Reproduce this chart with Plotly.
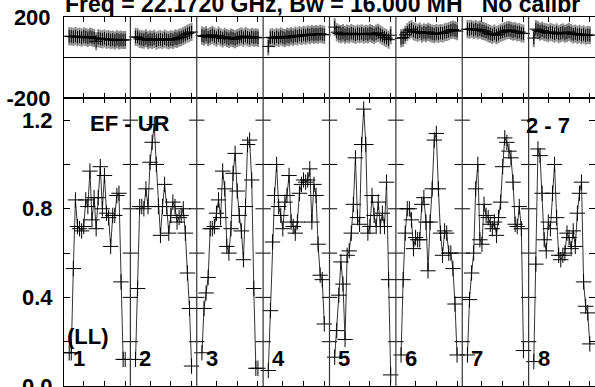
import plotly.graph_objects as go

W, H = 595, 387
N_CH = 32
FIRST_CH = 3

# Amplitude per IF segment (channels 3..30)
amp_if1 = [0.15, 0.15, 0.53, 0.84, 0.72, 0.71, 0.70, 0.72, 0.84, 0.81, 0.97, 0.75, 0.85, 0.71,
           0.85, 0.99, 0.80, 0.95, 0.78, 0.76, 0.63, 0.77, 0.77, 0.86, 0.87, 0.47, 0.12, 0.12]
amp_if2 = [0.12, 0.44, 0.81, 0.81, 0.80, 0.89, 0.81, 1.01, 1.10, 1.18, 1.00, 0.81, 0.68, 0.81,
           0.91, 0.81, 0.69, 0.77, 0.83, 0.81, 0.74, 0.76, 0.77, 0.80, 0.69, 0.51, 0.35, 0.09]
amp_if3 = [0.15, 0.35, 0.42, 0.49, 0.71, 0.71, 0.72, 0.78, 0.84, 0.76, 0.97, 0.89, 0.63, 0.60,
           0.71, 0.96, 1.05, 0.88, 0.77, 0.70, 0.57, 0.81, 1.09, 1.11, 0.93, 0.44, 0.08, 0.08]
amp_if4 = [0.07, 0.34, 0.65, 0.86, 1.00, 0.81, 0.77, 0.71, 0.83, 0.86, 0.95, 0.74, 0.72, 0.69,
           0.74, 0.87, 0.91, 0.93, 0.92, 0.93, 0.98, 0.74, 0.91, 0.86, 0.64, 0.50, 0.48, 0.28]
amp_if5 = [0.13, 0.25, 0.41, 0.56, 0.46, 0.21, 0.59, 0.61, 0.69, 0.82, 1.03, 0.76, 0.73, 1.09,
           1.25, 1.09, 0.69, 0.72, 0.86, 0.77, 0.72, 0.83, 0.72, 0.78, 0.72, 0.92, 0.48, 0.05]
amp_if6 = [0.14, 0.48, 0.69, 0.80, 0.80, 0.75, 0.62, 0.67, 0.66, 0.66, 0.82, 0.85, 0.74, 0.52,
           0.74, 0.89, 1.11, 1.14, 0.89, 0.69, 0.59, 0.70, 0.69, 0.60, 0.60, 0.53, 0.37, 0.14]
amp_if7 = [0.14, 0.39, 0.51, 0.60, 0.89, 1.00, 0.66, 0.64, 0.82, 0.77, 0.76, 0.73, 0.71, 0.74,
           0.68, 0.76, 0.83, 0.99, 1.12, 1.10, 1.06, 1.03, 0.92, 0.73, 0.72, 0.81, 0.71, 0.16]
amp_if8 = [0.11, 0.55, 1.07, 1.04, 0.87, 0.66, 0.61, 0.74, 0.71, 0.87, 1.00, 0.76, 0.59, 0.57,
           0.59, 0.60, 0.69, 0.67, 0.62, 0.70, 0.63, 0.78, 0.87, 0.92, 0.47, 0.36, 0.33, 0.19]

# Phase (degrees) per IF segment
ph_if1 = [105, 104, 102, 106, 100, 103, 98, 104, 101, 97, 103, 99, 96, 80,
          95, 92, 90, 94, 88, 91, 86, 89, 84, 90, 85, 88, 86, 87]
ph_if2 = [102, 100, 92, 90, 88, 95, 85, 90, 87, 92, 84, 88, 90, 86,
          93, 88, 85, 90, 87, 94, 92, 98, 100, 106, 112, 118, 122, 126]
ph_if3 = [108, 104, 110, 100, 106, 112, 104, 98, 108, 100, 94, 102, 96, 92,
          98, 95, 90, 96, 100, 104, 98, 106, 100, 96, 102, 98, 100, 97]
ph_if4 = [55, 98, 100, 95, 102, 97, 104, 99, 96, 103, 100, 106, 101, 108,
          104, 110, 106, 112, 108, 114, 110, 116, 112, 115, 113, 117, 114, 112]
ph_if5 = [150, 125, 118, 115, 120, 112, 118, 114, 120, 116, 112, 118, 115, 119,
          113, 117, 114, 120, 116, 112, 118, 122, 114, 108, 100, 96, 88, 110]
ph_if6 = [95, 98, 112, 125, 135, 140, 130, 126, 122, 128, 118, 124, 120, 126,
          122, 118, 115, 120, 117, 121, 119, 124, 126, 130, 135, 138, 134, 130]
ph_if7 = [140, 138, 142, 136, 140, 134, 138, 132, 130, 126, 120, 116, 112, 118,
          110, 115, 122, 126, 130, 134, 136, 132, 128, 130, 124, 126, 120, 118]
ph_if8 = [96, 140, 135, 128, 132, 126, 124, 120, 126, 122, 118, 124, 116, 120,
          124, 118, 122, 126, 120, 114, 118, 112, 116, 110, 114, 108, 112, 110]

amps = [amp_if1, amp_if2, amp_if3, amp_if4, amp_if5, amp_if6, amp_if7, amp_if8]
phases = [ph_if1, ph_if2, ph_if3, ph_if4, ph_if5, ph_if6, ph_if7, ph_if8]
if_labels = ["1", "2", "3", "4", "5", "6", "7", "8"]

title_text = "Freq = 22.1720 GHz, Bw = 16.000 MH   No calibr"
baseline_text = "EF - UR"
scan_text = "2 - 7"
pol_text = "(LL)"

FONT = "Liberation Sans, Arial, Helvetica, sans-serif"

xs, ya, yp = [], [], []
for k, (a, p) in enumerate(zip(amps, phases)):
    for i, (av, pv) in enumerate(zip(a, p)):
        xs.append(k * N_CH + FIRST_CH + i)
        ya.append(av)
        yp.append(pv)
    xs.append(None); ya.append(None); yp.append(None)

n_seg = len(amps)
fig = go.Figure()

# phase panel: gray bars + black crosses
fig.add_trace(go.Scatter(x=xs, y=yp, xaxis="x2", yaxis="y2", mode="markers",
                         marker=dict(symbol="line-ns", size=13, line=dict(color="#8a8a8a", width=2)),
                         hoverinfo="skip", showlegend=False))
fig.add_trace(go.Scatter(x=xs, y=yp, xaxis="x2", yaxis="y2", mode="lines+markers",
                         line=dict(color="#222", width=1),
                         marker=dict(symbol="cross-thin", size=9, line=dict(color="black", width=1)),
                         showlegend=False))
# amplitude panel
fig.add_trace(go.Scatter(x=xs, y=ya, mode="lines+markers",
                         line=dict(color="#333", width=1),
                         marker=dict(symbol="cross-thin", size=11, line=dict(color="black", width=1)),
                         showlegend=False))

# ticks along segment boundaries in amplitude panel
bx, by = [], []
for k in range(1, n_seg):
    for v in [0.2, 0.4, 0.6, 0.8, 1.0, 1.2]:
        bx.append(k * N_CH + 0.5); by.append(v)
fig.add_trace(go.Scatter(x=bx, y=by, mode="markers",
                         marker=dict(symbol="line-ew", size=11, line=dict(color="black", width=1)),
                         hoverinfo="skip", showlegend=False))

xr = [0.5, n_seg * N_CH + 0.5]
x_left = 64 / W
amp_dom = [1 - 386 / H, 1 - 98 / H]
ph_dom = [1 - 98 / H, 1 - 17 / H]
xt = [k * N_CH + c for k in range(n_seg) for c in (10, 20, 30)]

common_x = dict(range=xr, showline=True, mirror="ticks", linecolor="black", linewidth=1,
                ticks="inside", ticklen=5, tickcolor="black", tickvals=xt, showticklabels=False,
                showgrid=False, zeroline=False, domain=[x_left, 1], automargin=False)
fig.update_layout(
    width=W, height=H, margin=dict(l=0, r=0, t=0, b=0, autoexpand=False),
    paper_bgcolor="white", plot_bgcolor="white", showlegend=False,
    xaxis=dict(**common_x, anchor="y"),
    xaxis2=dict(**common_x, anchor="y2", matches="x"),
    yaxis=dict(domain=amp_dom, range=[0, 1.3], tickmode="linear", tick0=0, dtick=0.4,
               tickformat=".1f", ticks="inside", ticklen=6, tickcolor="black",
               minor=dict(dtick=0.2, ticks="inside", ticklen=6, tickcolor="black"),
               showline=True, mirror="ticks", linecolor="black", showgrid=False, zeroline=False,
               ticklabelstandoff=6, automargin=False, ticklabeloverflow="allow",
               tickfont=dict(family=FONT, size=22, color="black", weight="bold")),
    yaxis2=dict(domain=ph_dom, range=[-200, 200], tickvals=[-200, 200], ticktext=["-200", "200"],
                ticks="", showline=True, mirror=True, linecolor="black", showgrid=False,
                zeroline=True, zerolinecolor="black", zerolinewidth=1, ticklabelstandoff=8,
                automargin=False, ticklabeloverflow="allow",
                tickfont=dict(family=FONT, size=22, color="black", weight="bold")),
)

for k in range(1, n_seg):
    fig.add_shape(type="line", xref="x", yref="paper", x0=k * N_CH + 0.5, x1=k * N_CH + 0.5,
                  y0=amp_dom[0], y1=ph_dom[1], line=dict(color="#333", width=1.2))

def px(xp):
    return xp / W

def py(yp_):
    return 1 - yp_ / H

bold = dict(family=FONT, size=22, color="black", weight="bold")
fig.add_annotation(text=title_text, xref="paper", yref="paper", x=px(63), y=py(4), xanchor="left",
                   yanchor="middle", showarrow=False, font=dict(family=FONT, size=23, color="black", weight="bold"))
fig.add_annotation(text=baseline_text, xref="paper", yref="paper", x=px(130), y=py(124),
                   xanchor="center", yanchor="middle", showarrow=False, font=bold)
fig.add_annotation(text=scan_text, xref="paper", yref="paper", x=px(548), y=py(125),
                   xanchor="center", yanchor="middle", showarrow=False, font=bold)
fig.add_annotation(text=pol_text, xref="paper", yref="paper", x=px(88), y=py(336),
                   xanchor="center", yanchor="middle", showarrow=False, font=bold)
for k, lab in enumerate(if_labels):
    fig.add_annotation(text=lab, xref="x", yref="paper", x=k * N_CH + 0.5 + 7.2, y=py(358),
                       xanchor="center", yanchor="middle", showarrow=False, font=bold)

fig.write_html("out.html", config={"displayModeBar": False},
               post_script="document.body.style.margin='0';document.body.style.overflow='hidden';")
